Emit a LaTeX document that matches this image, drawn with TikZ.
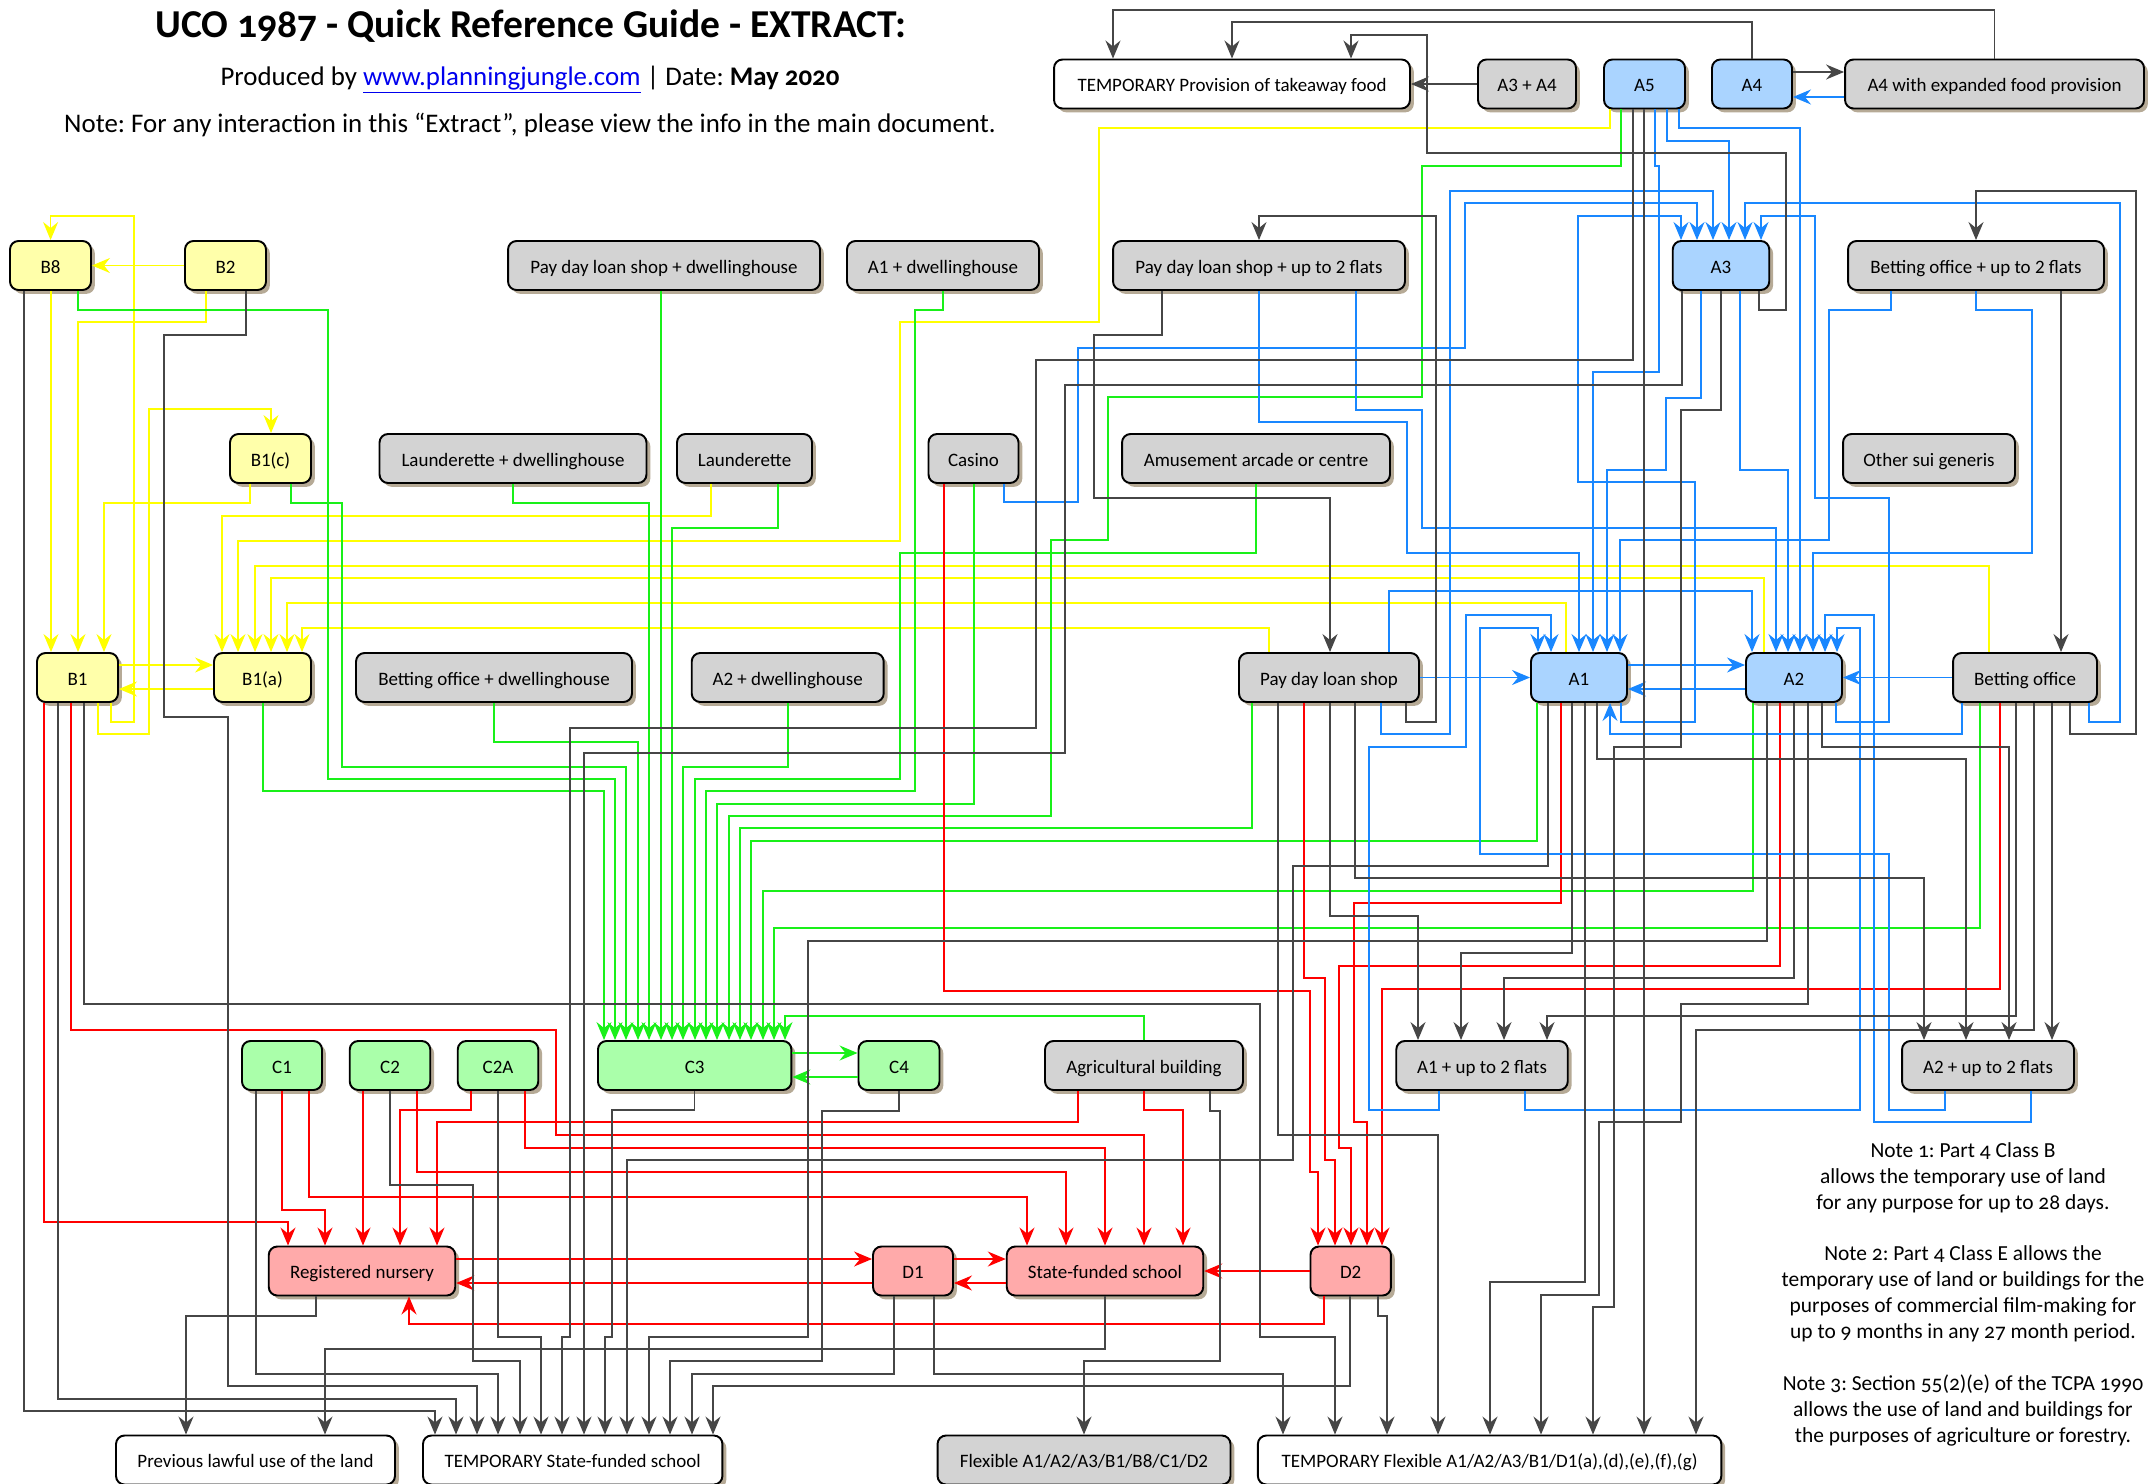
\documentclass[tikz,border=0pt]{standalone}
\usepackage{fontspec}
\setmainfont{Carlito}
\newfontfamily\oldfig{Carlito}[Numbers=OldStyle]
\usepackage{tikz}
\usetikzlibrary{arrows.meta,shadows}
\usepackage{xcolor}
\definecolor{fillyellow}{RGB}{255,255,170}
\definecolor{fillgrey}{RGB}{211,211,211}
\definecolor{fillblue}{RGB}{170,212,255}
\definecolor{fillgreen}{RGB}{170,255,170}
\definecolor{fillred}{RGB}{255,170,170}
\definecolor{lineyellow}{RGB}{255,255,0}
\definecolor{linegreen}{RGB}{25,240,25}
\definecolor{lineblue}{RGB}{25,135,255}
\definecolor{linered}{RGB}{255,0,0}
\definecolor{linegrey}{RGB}{70,70,70}
\definecolor{shadowtan}{RGB}{182,170,150}
\definecolor{linkblue}{RGB}{0,0,238}
\frenchspacing

\tikzset{
  usebox/.style={draw=black, line width=1.1pt, rounded corners=0.17cm,
    minimum height=0.98cm, inner sep=0pt, text height=10pt, text depth=1.2pt,
    font=\fontsize{10.8}{13}\selectfont,
    drop shadow={shadow xshift=2.2pt, shadow yshift=-2.2pt, fill=shadowtan, opacity=1}},
  ybox/.style={usebox, fill=fillyellow},
  gbox/.style={usebox, fill=fillgrey},
  bbox/.style={usebox, fill=fillblue},
  cbox/.style={usebox, fill=fillgreen},
  rbox/.style={usebox, fill=fillred},
  wbox/.style={usebox, fill=white},
  wire/.style={line width=0.85pt, -{Stealth[length=0.36cm, width=0.3cm, inset=0.12cm]}},
  ylink/.style={wire, lineyellow},
  glink/.style={wire, linegreen},
  blink/.style={wire, lineblue},
  rlink/.style={wire, linered},
  klink/.style={wire, linegrey}
}

\begin{document}
\begin{tikzpicture}[x=0.02cm, y=-0.02cm]
\useasboundingbox (0,0) rectangle (2154,1484);

% heading
\node[anchor=base, font=\fontsize{22.5}{26}\selectfont\bfseries] (title) at (531,37)
  {UCO {\oldfig 1987} - Quick Reference Guide - EXTRACT:};
\node[anchor=base, font=\fontsize{15.3}{18}\selectfont] (produced) at (530,85)
  {Produced by \textcolor{linkblue}{\underline{www.planningjungle.com}} | Date: \textbf{May {\oldfig 2020}}};
\node[anchor=base, font=\fontsize{15.3}{18}\selectfont] (intro) at (530,132)
  {Note: For any interaction in this “Extract”, please view the info in the main document.};

% top row
\node[wbox, minimum width=7.12cm] (tprov) at (1232,84) {TEMPORARY Provision of takeaway food};
\node[gbox, minimum width=1.96cm] (a3a4) at (1527,84) {A3 + A4};
\node[bbox, minimum width=1.62cm] (a5) at (1644.5,84) {A5};
\node[bbox, minimum width=1.60cm] (a4) at (1752,84) {A4};
\node[gbox, minimum width=5.98cm] (a4x) at (1994.5,84) {A4 with expanded food provision};

\node[ybox, minimum width=1.62cm] (b8) at (50.5,265.5) {B8};
\node[ybox, minimum width=1.62cm] (b2) at (225.5,265.5) {B2};
\node[gbox, minimum width=6.24cm] (pdlsd) at (664,265.5) {Pay day loan shop + dwellinghouse};
\node[gbox, minimum width=3.84cm] (a1d) at (943,265.5) {A1 + dwellinghouse};
\node[gbox, minimum width=5.84cm] (pdls2) at (1259,265.5) {Pay day loan shop + up to 2 flats};
\node[bbox, minimum width=1.93cm] (a3) at (1721,265.5) {A3};
\node[gbox, minimum width=5.12cm] (bo2) at (1976,265.5) {Betting office + up to 2 flats};

\node[ybox, minimum width=1.62cm] (b1c) at (270.5,458.5) {B1(c)};
\node[gbox, minimum width=5.34cm] (laud) at (513,458.5) {Launderette + dwellinghouse};
\node[gbox, minimum width=2.70cm] (laun) at (744.5,458.5) {Launderette};
\node[gbox, minimum width=1.80cm] (casino) at (973.5,458.5) {Casino};
\node[gbox, minimum width=5.36cm] (amuse) at (1256,458.5) {Amusement arcade or centre};
\node[gbox, minimum width=3.44cm] (other) at (1929,458.5) {Other sui generis};

\node[ybox, minimum width=1.62cm] (b1) at (77.5,677.5) {B1};
\node[ybox, minimum width=1.94cm] (b1a) at (262.5,677.5) {B1(a)};
\node[gbox, minimum width=5.52cm] (bod) at (494,677.5) {Betting office + dwellinghouse};
\node[gbox, minimum width=3.84cm] (a2d) at (787.7,677.5) {A2 + dwellinghouse};
\node[gbox, minimum width=3.60cm] (pdl) at (1329,677.5) {Pay day loan shop};
\node[bbox, minimum width=1.92cm] (a1) at (1579,677.5) {A1};
\node[bbox, minimum width=1.92cm] (a2) at (1794,677.5) {A2};
\node[gbox, minimum width=2.88cm] (bo) at (2025,677.5) {Betting office};

\node[cbox, minimum width=1.60cm] (c1) at (282,1065.5) {C1};
\node[cbox, minimum width=1.61cm] (c2) at (390,1065.5) {C2};
\node[cbox, minimum width=1.61cm] (c2a) at (498,1065.5) {C2A};
\node[cbox, minimum width=3.87cm] (c3) at (694.7,1065.5) {C3};
\node[cbox, minimum width=1.62cm] (c4) at (899,1065.5) {C4};
\node[gbox, minimum width=3.96cm] (agri) at (1144,1065.5) {Agricultural building};
\node[gbox, minimum width=3.43cm] (a1f) at (1482,1065.5) {A1 + up to 2 flats};
\node[gbox, minimum width=3.44cm] (a2f) at (1988,1065.5) {A2 + up to 2 flats};

\node[rbox, minimum width=3.73cm] (nurs) at (362,1271) {Registered nursery};
\node[rbox, minimum width=1.60cm] (d1) at (913,1271) {D1};
\node[rbox, minimum width=3.93cm] (sfs) at (1105,1271) {State-funded school};
\node[rbox, minimum width=1.61cm] (d2) at (1350.7,1271) {D2};

\node[wbox, minimum width=5.58cm] (prev) at (255.5,1460) {Previous lawful use of the land};
\node[wbox, minimum width=5.99cm] (tsfs) at (572.7,1460) {TEMPORARY State-funded school};
\node[gbox, minimum width=5.86cm] (flex) at (1084,1460) {Flexible A1/A2/A3/B1/B8/C1/D2};
\node[wbox, minimum width=9.27cm] (tflex) at (1489.6,1460) {TEMPORARY Flexible A1/A2/A3/B1/D1(a),(d),(e),(f),(g)};

\node[align=center, anchor=north, inner sep=0pt, font=\fontsize{12.2}{14.74}\selectfont\oldfig] (notes) at (1963,1142)
  {Note 1: Part 4 Class B\\ allows the temporary use of land\\ for any purpose for up to 28 days.\\[14.74pt]
   Note 2: Part 4 Class E allows the\\ temporary use of land or buildings for the\\ purposes of commercial film-making for\\ up to 9 months in any 27 month period.\\[14.74pt]
   Note 3: Section 55(2)(e) of the TCPA 1990\\ allows the use of land and buildings for\\ the purposes of agriculture or forestry.};

% yellow links
\draw[ylink] (b2.west) -- (b8.east);
\draw[ylink] (b1.south -| 111,0) |- (134,722) |- (50.6,216) -- (b8.north -| 50.6,0);
\draw[ylink] (b8.south -| 51,0) -- (b1.north -| 51,0);
\draw[ylink] (b2.south -| 206,0) |- (78,322) -- (b1.north -| 78,0);
\draw[ylink] (b1.south -| 98,0) |- (149,734) |- (271,409) -- (b1c.north -| 271,0);
\draw[ylink] (b1c.south -| 250,0) |- (104,503) -- (b1.north -| 104,0);
\draw[ylink] (b1.east |- 0,665) -- (b1a.west |- 0,665);
\draw[ylink] (b1a.west |- 0,689) -- (b1.east |- 0,689);
\draw[ylink] (laun.south -| 711,0) |- (222,516) -- (b1a.north -| 222,0);
\draw[ylink] (a5.south -| 1610,0) |- (1099,128) |- (900,322) |- (238,541) -- (b1a.north -| 238,0);
\draw[ylink] (bo.north -| 1989,0) |- (255,566) -- (b1a.north -| 255,0);
\draw[ylink] (a2.north -| 1764,0) |- (271,578) -- (b1a.north -| 271,0);
\draw[ylink] (a1.north -| 1566,0) |- (287,603) -- (b1a.north -| 287,0);
\draw[ylink] (pdl.north -| 1269,0) |- (302,628) -- (b1a.north -| 302,0);

% green links
\draw[glink] (b1a.south -| 263,0) |- (604,791) -- (c3.north -| 604,0);
\draw[glink] (b8.south -| 78,0) |- (328,310) |- (615,779) -- (c3.north -| 615,0);
\draw[glink] (b1c.south -| 291,0) |- (342,503) |- (626,767) -- (c3.north -| 626,0);
\draw[glink] (bod.south -| 494,0) |- (638,742) -- (c3.north -| 638,0);
\draw[glink] (laud.south -| 513,0) |- (649,503) -- (c3.north -| 649,0);
\draw[glink] (pdlsd.south -| 661,0) -- (c3.north -| 661,0);
\draw[glink] (laun.south -| 778,0) |- (672,528) -- (c3.north -| 672,0);
\draw[glink] (a2d.south -| 788,0) |- (683,767) -- (c3.north -| 683,0);
\draw[glink] (amuse.south -| 1256,0) |- (900,553) |- (695,779) -- (c3.north -| 695,0);
\draw[glink] (a1d.south -| 943,0) |- (915,310) |- (706,791) -- (c3.north -| 706,0);
\draw[glink] (casino.south -| 974,0) |- (717,804) -- (c3.north -| 717,0);
\draw[glink] (a5.south -| 1621,0) |- (1422,166) |- (1108,397) |- (1051,540) |- (729,816) -- (c3.north -| 729,0);
\draw[glink] (pdl.south -| 1252,0) |- (740,828) -- (c3.north -| 740,0);
\draw[glink] (a1.south -| 1537,0) |- (751,841) -- (c3.north -| 751,0);
\draw[glink] (a2.south -| 1753,0) |- (763,891) -- (c3.north -| 763,0);
\draw[glink] (bo.south -| 1980,0) |- (774,928) -- (c3.north -| 774,0);
\draw[glink] (agri.north -| 1144,0) |- (785,1016) -- (c3.north -| 785,0);
\draw[glink] (c3.east |- 0,1053) -- (c4.west |- 0,1053);
\draw[glink] (c4.west |- 0,1077) -- (c3.east |- 0,1077);

% red links
\draw[rlink] (b1.south -| 44,0) |- (288,1222) -- (nurs.north -| 288,0);
\draw[rlink] (b1.south -| 71,0) |- (556,1030) |- (1144,1135) -- (sfs.north -| 1144,0);
\draw[rlink] (c1.south -| 282,0) |- (325,1210) -- (nurs.north -| 325,0);
\draw[rlink] (c1.south -| 309,0) |- (1027,1197) -- (sfs.north -| 1027,0);
\draw[rlink] (c2.south -| 363,0) -- (nurs.north -| 363,0);
\draw[rlink] (c2.south -| 417,0) |- (1066,1172) -- (sfs.north -| 1066,0);
\draw[rlink] (c2a.south -| 471,0) |- (400,1110) -- (nurs.north -| 400,0);
\draw[rlink] (c2a.south -| 525,0) |- (1105,1148) -- (sfs.north -| 1105,0);
\draw[rlink] (agri.south -| 1078,0) |- (437,1122) -- (nurs.north -| 437,0);
\draw[rlink] (agri.south -| 1144,0) |- (1183,1110) -- (sfs.north -| 1183,0);
\draw[rlink] (nurs.east |- 0,1259) -- (d1.west |- 0,1259);
\draw[rlink] (d1.west |- 0,1283) -- (nurs.east |- 0,1283);
\draw[rlink] (d1.east |- 0,1259) -- (sfs.west |- 0,1259);
\draw[rlink] (sfs.west |- 0,1283) -- (d1.east |- 0,1283);
\draw[rlink] (d2.west) -- (sfs.east);
\draw[rlink] (d2.south -| 1324,0) |- (409,1324) -- (nurs.south -| 409,0);
\draw[rlink] (casino.south -| 944,0) |- (1310,991) |- (1318,1172) -- (d2.north -| 1318,0);
\draw[rlink] (pdl.south -| 1304,0) |- (1325,978) |- (1335,1160) -- (d2.north -| 1335,0);
\draw[rlink] (a2.south -| 1780,0) |- (1339,966) |- (1351,1148) -- (d2.north -| 1351,0);
\draw[rlink] (a1.south -| 1561,0) |- (1354,903) |- (1367,1122) -- (d2.north -| 1367,0);
\draw[rlink] (bo.south -| 2000,0) |- (1382,989) -- (d2.north -| 1382,0);

% blue links
\draw[blink] (a4x.west |- 0,97) -- (a4.east |- 0,97);
\draw[blink] (pdl.east) -- (a1.west);
\draw[blink] (a1.east |- 0,665) -- (a2.west |- 0,665);
\draw[blink] (a2.west |- 0,689) -- (a1.east |- 0,689);
\draw[blink] (bo.west) -- (a2.east);
\draw[blink] (a2f.south -| 1945,0) |- (1889,1110) |- (1480,854) |- (1538,628) -- (a1.north -| 1538,0);
\draw[blink] (a1f.south -| 1439,0) |- (1369,1110) |- (1466,747) |- (1551,615) -- (a1.north -| 1551,0);
\draw[blink] (pdls2.south -| 1259,0) |- (1407,422) |- (1579,553) -- (a1.north -| 1579,0);
\draw[blink] (a5.south -| 1655,0) |- (1659,166) |- (1593,372) -- (a1.north -| 1593,0);
\draw[blink] (a3.south -| 1701,0) |- (1666,398) |- (1607,470) -- (a1.north -| 1607,0);
\draw[blink] (bo2.south -| 1891,0) |- (1829,310) |- (1620,540) -- (a1.north -| 1620,0);
\draw[blink] (bo.south -| 1962,0) |- (1610,734) -- (a1.south -| 1610,0);
\draw[blink] (pdl.north -| 1389,0) |- (1752,591) -- (a2.north -| 1752,0);
\draw[blink] (pdls2.south -| 1356,0) |- (1422,410) |- (1776,528) -- (a2.north -| 1776,0);
\draw[blink] (a3.south -| 1740,0) |- (1788,470) -- (a2.north -| 1788,0);
\draw[blink] (a5.south -| 1679,0) |- (1800,128) -- (a2.north -| 1800,0);
\draw[blink] (bo2.south -| 1976,0) |- (2032,310) |- (1813,553) -- (a2.north -| 1813,0);
\draw[blink] (a2f.south -| 2031,0) |- (1874,1122) |- (1825,615) -- (a2.north -| 1825,0);
\draw[blink] (a1f.south -| 1525,0) |- (1860,1110) |- (1837,628) -- (a2.north -| 1837,0);
\draw[blink] (a1.south -| 1621,0) |- (1695,722) |- (1578,482) |- (1681,216) -- (a3.north -| 1681,0);
\draw[blink] (casino.south -| 1004,0) |- (1078,502) |- (1465,348) |- (1697,203) -- (a3.north -| 1697,0);
\draw[blink] (pdl.south -| 1381,0) |- (1450,734) |- (1713,191) -- (a3.north -| 1713,0);
\draw[blink] (a5.south -| 1667,0) |- (1729,141) -- (a3.north -| 1729,0);
\draw[blink] (bo.south -| 2089,0) |- (2120,722) |- (1745,203) -- (a3.north -| 1745,0);
\draw[blink] (a2.south -| 1836,0) |- (1889,722) |- (1815,498) |- (1761,216) -- (a3.north -| 1761,0);

% grey links
\draw[klink] (a4.north) |- (1232,22) -- (tprov.north -| 1232,0);
\draw[klink] (a4x.north) |- (1113,10) -- (tprov.north -| 1113,0);
\draw[klink] (a3.south -| 1759,0) |- (1786,310) |- (1427,153) |- (1351,35) -- (tprov.north -| 1351,0);
\draw[klink] (a3a4.west) -- (tprov.east);
\draw[klink] (a4.east |- 0,72) -- (a4x.west |- 0,72);
\draw[klink] (b8.south -| 24,0) |- (435,1411) -- (tsfs.north -| 435,0);
\draw[klink] (b1.south -| 58,0) |- (456,1399) -- (tsfs.north -| 456,0);
\draw[klink] (b2.south -| 246,0) |- (164,335) |- (228,717) |- (477,1386) -- (tsfs.north -| 477,0);
\draw[klink] (c1.south -| 256,0) |- (498,1374) -- (tsfs.north -| 498,0);
\draw[klink] (c2.south -| 390,0) |- (473,1185) |- (520,1361) -- (tsfs.north -| 520,0);
\draw[klink] (c2a.south -| 498,0) |- (541,1337) -- (tsfs.north -| 541,0);
\draw[klink] (a5.south -| 1633,0) |- (1036,360) |- (570,728) |- (562,1337) -- (tsfs.north -| 562,0);
\draw[klink] (a3.south -| 1682,0) |- (1065,385) |- (584,753) -- (tsfs.north -| 584,0);
\draw[klink] (c3.south) |- (612,1110) |- (605,1337) -- (tsfs.north -| 605,0);
\draw[klink] (a1.south -| 1548,0) |- (1293,866) |- (627,1160) -- (tsfs.north -| 627,0);
\draw[klink] (a2.south -| 1767,0) |- (808,941) |- (649,1337) -- (tsfs.north -| 649,0);
\draw[klink] (c4.south) |- (822,1111) |- (670,1361) -- (tsfs.north -| 670,0);
\draw[klink] (d1.south -| 894,0) |- (692,1374) -- (tsfs.north -| 692,0);
\draw[klink] (d2.south -| 1350,0) |- (713,1386) -- (tsfs.north -| 713,0);
\draw[klink] (nurs.south -| 316,0) |- (186,1316) -- (prev.north -| 186,0);
\draw[klink] (sfs.south) |- (325,1349) -- (prev.north -| 325,0);
\draw[klink] (agri.south -| 1210,0) |- (1220,1111) |- (1084,1361) -- (flex.north -| 1084,0);
\draw[klink] (d1.south -| 934,0) |- (1283,1374) -- (tflex.north -| 1283,0);
\draw[klink] (b1.south -| 84,0) |- (1260,1004) |- (1335,1337) -- (tflex.north -| 1335,0);
\draw[klink] (d2.south -| 1378,0) |- (1387,1316) -- (tflex.north -| 1387,0);
\draw[klink] (pdl.south -| 1278,0) |- (1438,1135) -- (tflex.north -| 1438,0);
\draw[klink] (a1.south -| 1585,0) |- (1490,1282) -- (tflex.north -| 1490,0);
\draw[klink] (a2.south -| 1808,0) |- (1681,1004) |- (1599,1122) |- (1541,1295) -- (tflex.north -| 1541,0);
\draw[klink] (a3.south -| 1721,0) |- (1681,410) |- (1614,747) |- (1593,1307) -- (tflex.north -| 1593,0);
\draw[klink] (a5.south -| 1644,0) -- (tflex.north -| 1644,0);
\draw[klink] (bo.south -| 2034,0) |- (1696,1030) -- (tflex.north -| 1696,0);
\draw[klink] (pdl.south -| 1330,0) |- (1418,916) -- (a1f.north -| 1418,0);
\draw[klink] (a1.south -| 1572,0) |- (1461,953) -- (a1f.north -| 1461,0);
\draw[klink] (a2.south -| 1794,0) |- (1504,978) -- (a1f.north -| 1504,0);
\draw[klink] (bo.south -| 2016,0) |- (1547,1016) -- (a1f.north -| 1547,0);
\draw[klink] (pdl.south -| 1355,0) |- (1924,878) -- (a2f.north -| 1924,0);
\draw[klink] (a1.south -| 1597,0) |- (1966,759) -- (a2f.north -| 1966,0);
\draw[klink] (a2.south -| 1822,0) |- (2009,747) -- (a2f.north -| 2009,0);
\draw[klink] (bo.south -| 2052,0) -- (a2f.north -| 2052,0);
\draw[klink] (bo2.south -| 2061,0) -- (bo.north -| 2061,0);
\draw[klink] (bo.south -| 2070,0) |- (2136,734) |- (1976,191) -- (bo2.north -| 1976,0);
\draw[klink] (pdls2.south -| 1162,0) |- (1094,335) |- (1330,498) -- (pdl.north -| 1330,0);
\draw[klink] (pdl.south -| 1406,0) |- (1436,722) |- (1259,216) -- (pdls2.north -| 1259,0);
\end{tikzpicture}
\end{document}
